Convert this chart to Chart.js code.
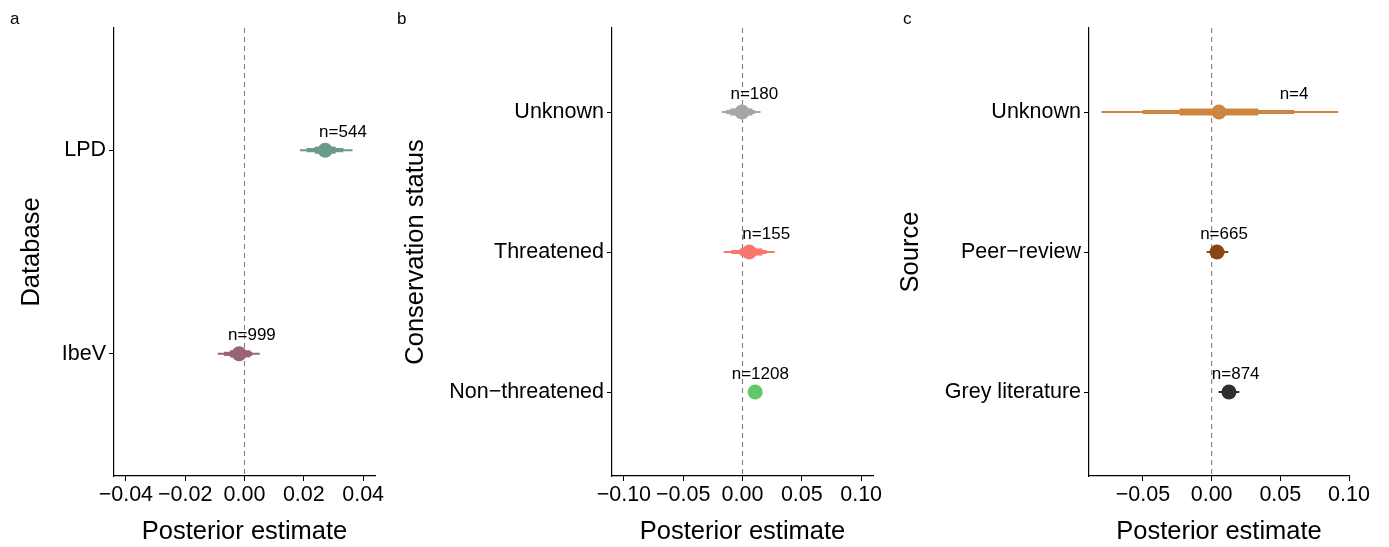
<!DOCTYPE html>
<html lang="en">
<head>
<meta charset="UTF-8">
<title>Posterior estimates by database, conservation status and source</title>
<style>
    body {
        margin: 0;
        background: #ffffff;
        font-family: "Liberation Sans", Arial, sans-serif;
    }
    #wrap {
        position: relative;
        width: 1389px;
        height: 547px;
    }
    canvas {
        position: absolute;
        top: 0;
    }
    .tag {
        position: absolute;
        top: 9px;
        font-size: 17px;
        color: #000;
    }
</style>
</head>
<body>
<div id="wrap">
    <canvas id="panelA" width="395" height="547" style="left:0px"></canvas>
    <canvas id="panelB" width="495" height="547" style="left:395px"></canvas>
    <canvas id="panelC" width="499" height="547" style="left:890px"></canvas>
    <div class="tag" style="left:10px">a</div>
    <div class="tag" style="left:397px">b</div>
    <div class="tag" style="left:903px">c</div>
</div>

<script src="https://cdn.jsdelivr.net/npm/chart.js"></script>
<script>
    // categories are listed bottom to top
    // panel a - database
    const dbCategories = ['IbeV', 'LPD'];
    const dbEstimate = [-0.0018, 0.0272];
    const dbLow95 = [-0.0089, 0.0188];
    const dbHigh95 = [0.0050, 0.0363];
    const dbLow80 = [-0.0068, 0.0210];
    const dbHigh80 = [0.0025, 0.0332];
    const dbLow50 = [-0.0048, 0.0238];
    const dbHigh50 = [0.0019, 0.0306];
    const dbN = [999, 544];
    const dbColors = ['#9a6276', '#689b89'];
    const dbTicks = [-0.04, -0.02, 0.00, 0.02, 0.04];

    // panel b - conservation status
    const csCategories = ['Non\u2212threatened', 'Threatened', 'Unknown'];
    const csEstimate = [0.0107, 0.0057, -0.0005];
    const csLow95 = [0.0060, -0.0155, -0.0171];
    const csHigh95 = [0.0155, 0.0268, 0.0149];
    const csLow80 = [0.0080, -0.0090, -0.0135];
    const csHigh80 = [0.0150, 0.0200, 0.0100];
    const csLow50 = [0.0090, -0.0020, -0.0100];
    const csHigh50 = [0.0125, 0.0165, 0.0080];
    const csN = [1208, 155, 180];
    const csColors = ['#5ec86b', '#f8766d', '#a6a6a6'];
    const csTicks = [-0.10, -0.05, 0.00, 0.05, 0.10];

    // panel c - source
    const srcCategories = ['Grey literature', 'Peer\u2212review', 'Unknown'];
    const srcEstimate = [0.0126, 0.0039, 0.0053];
    const srcLow95 = [0.0053, -0.0034, -0.0800];
    const srcHigh95 = [0.0199, 0.0119, 0.0919];
    const srcLow80 = [0.0080, -0.0010, -0.0500];
    const srcHigh80 = [0.0175, 0.0090, 0.0600];
    const srcLow50 = [0.0100, 0.0010, -0.0231];
    const srcHigh50 = [0.0155, 0.0070, 0.0337];
    const srcN = [874, 665, 4];
    const srcColors = ['#2e2e2e', '#8b4513', '#cd853f'];
    const srcTicks = [-0.05, 0.00, 0.05, 0.10];

    const FONT = '"Liberation Sans", Arial, sans-serif';

    // dashed vertical line at zero + n labels
    const overlay = {
        id: 'overlay',
        beforeDatasetsDraw(chart) {
            const { ctx, chartArea, scales } = chart;
            const x0 = scales.x.getPixelForValue(0);
            ctx.save();
            ctx.strokeStyle = '#7f7f7f';
            ctx.lineWidth = 1.1;
            ctx.setLineDash([5, 4]);
            ctx.beginPath();
            ctx.moveTo(x0, chartArea.top);
            ctx.lineTo(x0, chartArea.bottom);
            ctx.stroke();
            ctx.restore();
        },
        afterDatasetsDraw(chart, args, opts) {
            const { ctx, scales } = chart;
            ctx.save();
            ctx.fillStyle = '#000';
            ctx.font = '17px ' + FONT;
            ctx.textAlign = 'center';
            ctx.textBaseline = 'alphabetic';
            opts.n.forEach((n, i) => {
                const x = scales.x.getPixelForValue(opts.at[i]);
                const y = scales.y.getPixelForValue(i + 1) - 13.5;
                ctx.fillText('n=' + n, x, y);
            });
            ctx.restore();
        }
    };

    function fmt(v) {
        return v.toFixed(2).replace('-', '\u2212');
    }

    function makePanel(id, p) {
        const ys = p.categories.map((c, i) => i + 1);
        const interval = (lo, hi, width) => ({
            type: 'bar',
            indexAxis: 'y',
            grouped: false,
            barThickness: width,
            borderWidth: 0,
            backgroundColor: p.colors,
            data: ys.map((y, i) => ({ y: y, x: [lo[i], hi[i]] })),
            order: 1
        });

        new Chart(document.getElementById(id), {
            type: 'bar',
            data: {
                datasets: [
                    interval(p.low95, p.high95, 1.4),
                    interval(p.low80, p.high80, 3.5),
                    interval(p.low50, p.high50, 6.5),
                    {
                        type: 'scatter',
                        data: ys.map((y, i) => ({ x: p.estimate[i], y: y })),
                        pointRadius: 7.5,
                        pointBorderWidth: 0,
                        pointBackgroundColor: p.colors,
                        order: 0
                    }
                ]
            },
            options: {
                responsive: false,
                animation: false,
                layout: { padding: { left: 0, right: p.padRight, top: 28, bottom: 0 } },
                plugins: {
                    legend: { display: false },
                    tooltip: { enabled: false },
                    overlay: { n: p.n, at: p.high80 }
                },
                scales: {
                    x: {
                        type: 'linear',
                        offset: false,
                        min: p.xMin,
                        max: p.xMax,
                        afterBuildTicks: s => { s.ticks = p.ticks.map(v => ({ value: v })); },
                        afterFit: s => { s.height = 71; },
                        ticks: {
                            autoSkip: false,
                            maxRotation: 0,
                            padding: 1,
                            color: '#000',
                            font: { family: FONT, size: 21.5 },
                            callback: v => fmt(v)
                        },
                        grid: { offset: false, drawOnChartArea: false, tickLength: 5, tickColor: '#000', tickWidth: 1 },
                        border: { display: true, color: '#000', width: 1.2 },
                        title: {
                            display: true,
                            text: 'Posterior estimate',
                            color: '#000',
                            font: { family: FONT, size: 25.5 },
                            padding: { top: 0, bottom: 0 }
                        }
                    },
                    y: {
                        type: 'linear',
                        offset: false,
                        beginAtZero: false,
                        min: 0.4,
                        max: p.categories.length + 0.6,
                        afterBuildTicks: s => { s.ticks = ys.map(v => ({ value: v })); },
                        afterFit: s => { s.width = p.axisWidth; },
                        ticks: {
                            autoSkip: false,
                            padding: 3,
                            color: '#000',
                            font: { family: FONT, size: 21.5 },
                            callback: v => p.categories[Math.round(v) - 1]
                        },
                        grid: { offset: false, drawOnChartArea: false, tickLength: 5, tickColor: '#000', tickWidth: 1 },
                        border: { display: true, color: '#000', width: 1.2 },
                        title: {
                            display: true,
                            text: p.title,
                            color: '#000',
                            font: { family: FONT, size: 25.5 },
                            padding: { top: p.titlePad, bottom: 0 }
                        }
                    }
                }
            },
            plugins: [overlay]
        });
    }

    makePanel('panelA', {
        categories: dbCategories, estimate: dbEstimate,
        low95: dbLow95, high95: dbHigh95, low80: dbLow80, high80: dbHigh80,
        low50: dbLow50, high50: dbHigh50, n: dbN, colors: dbColors, ticks: dbTicks,
        xMin: -0.044, xMax: 0.044, title: 'Database',
        axisWidth: 114, padRight: 20, titlePad: 16.5
    });

    makePanel('panelB', {
        categories: csCategories, estimate: csEstimate,
        low95: csLow95, high95: csHigh95, low80: csLow80, high80: csHigh80,
        low50: csLow50, high50: csHigh50, n: csN, colors: csColors, ticks: csTicks,
        xMin: -0.11, xMax: 0.11, title: 'Conservation status',
        axisWidth: 217, padRight: 17, titlePad: 5.5
    });

    makePanel('panelC', {
        categories: srcCategories, estimate: srcEstimate,
        low95: srcLow95, high95: srcHigh95, low80: srcLow80, high80: srcHigh80,
        low50: srcLow50, high50: srcHigh50, n: srcN, colors: srcColors, ticks: srcTicks,
        xMin: -0.0893, xMax: 0.10, title: 'Source',
        axisWidth: 199, padRight: 40, titlePad: 5.5
    });
</script>
</body>
</html>
